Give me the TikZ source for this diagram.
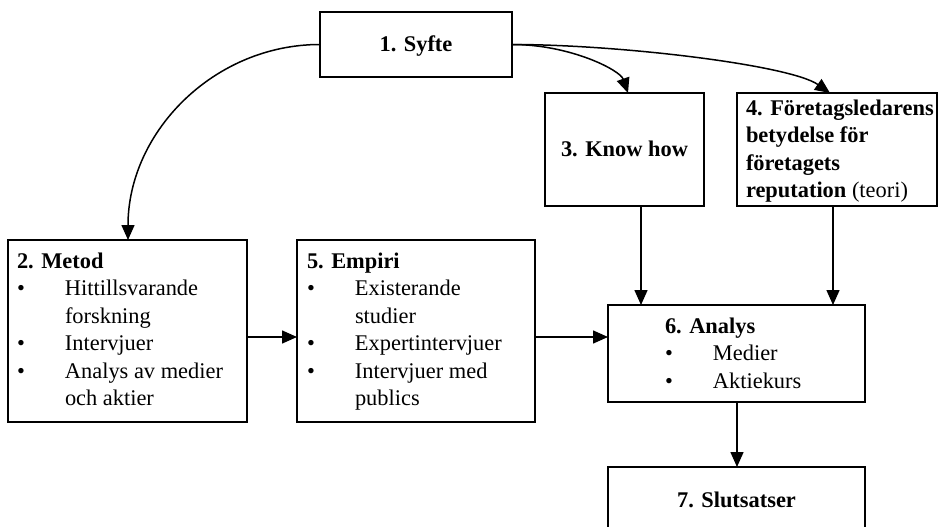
\documentclass[tikz,border=0pt]{standalone}
\usepackage{fontspec}
\setmainfont{Liberation Serif}
\usetikzlibrary{arrows.meta,calc}
\newcommand{\blt}{\makebox[48pt][l]{\textbullet}}
\newcommand{\ind}{\hspace*{48pt}}
\begin{document}
\begin{tikzpicture}[x=1pt,y=-1pt,
  box/.style={draw, line width=1.5pt, inner sep=0pt, outer sep=0pt},
  txt/.style={inner sep=0pt, outer sep=0pt, align=left, font=\fontsize{22.4}{27.5}\selectfont},
  ttl/.style={inner sep=0pt, outer sep=0pt, font=\fontsize{22.4}{27.5}\selectfont\bfseries},
  arr/.style={line width=1.5pt, -{Triangle[length=15pt,width=13pt]}}]
\clip (0,0) rectangle (938,527);
\fill[white] (0,0) rectangle (938,527);
% boxes
\node[box, minimum width=192pt, minimum height=65pt] (syfte) at (416,44.5) {};
\node[box, minimum width=159pt, minimum height=113pt] (knowhow) at (624.5,149.5) {};
\node[box, minimum width=200pt, minimum height=113pt] (ledare) at (837,149.5) {};
\node[box, minimum width=239pt, minimum height=182pt] (metod) at (127.5,331) {};
\node[box, minimum width=238pt, minimum height=182pt] (empiri) at (416,331) {};
\node[box, minimum width=257pt, minimum height=97pt] (analys) at (736.5,353.5) {};
\node[box, minimum width=257pt, minimum height=65pt] (slut) at (736.5,499.5) {};
% texts (base anchor = baseline of the last line)
\node[ttl, anchor=base] (syftet) at (416,52) {1. Syfte};
\node[ttl, anchor=base] (knowhowt) at (624.5,157) {3. Know how};
\node[ttl, anchor=base] (slutt) at (736.5,507) {7. Slutsatser};
\node[txt, anchor=base west] (ledaret) at (746,197.5) {\textbf{4. Företagsledarens}\\\textbf{betydelse för}\\\textbf{företagets}\\\textbf{reputation} (teori)};
\node[txt, anchor=base west] (metodt) at (17,405.5) {\textbf{2. Metod}\\\blt Hittillsvarande\\\ind forskning\\\blt Intervjuer\\\blt Analys av medier\\\ind och aktier};
\node[txt, anchor=base west] (empirit) at (307,405.5) {\textbf{5. Empiri}\\\blt Existerande\\\ind studier\\\blt Expertintervjuer\\\blt Intervjuer med\\\ind publics};
\node[txt, anchor=base west] (analyst) at (665,388) {\textbf{6. Analys}\\\blt Medier\\\blt Aktiekurs};
% connector end points
\coordinate (metodin) at (128,240);
\coordinate (khin) at (628,93);
\coordinate (ldin) at (830,93);
\coordinate (khout) at (641,206);
\coordinate (anin1) at (641,305);
\coordinate (ldout) at (833,206);
\coordinate (anin2) at (833,305);
\coordinate (meout) at (247,337);
\coordinate (emin) at (297,337);
\coordinate (emout) at (535,337);
\coordinate (anin3) at (608,337);
\coordinate (anout) at (737,402);
\coordinate (slin) at (737,467);
% connectors
\draw[arr] (syfte.west) .. controls +(-106,0) and +(0,-108) .. (metodin);
\draw[arr] (syfte.east) .. controls +(58,0) and +(-8,-23) .. (khin);
\draw[arr] (syfte.east) .. controls +(108,0) and +(-40,-28) .. (ldin);
\draw[arr] (khout) -- (anin1);
\draw[arr] (ldout) -- (anin2);
\draw[arr] (meout) -- (emin);
\draw[arr] (emout) -- (anin3);
\draw[arr] (anout) -- (slin);
\end{tikzpicture}
\end{document}
